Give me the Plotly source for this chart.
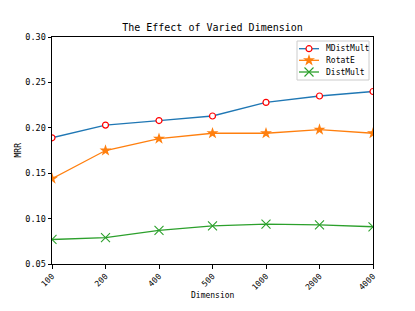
import plotly.graph_objects as go

dims = ["100", "200", "400", "500", "1000", "2000", "4000"]
mdistmult = [0.189, 0.203, 0.208, 0.213, 0.228, 0.235, 0.240]
rotate = [0.144, 0.175, 0.188, 0.194, 0.194, 0.198, 0.194]
distmult = [0.077, 0.079, 0.087, 0.092, 0.094, 0.093, 0.091]
series_names = ["MDistMult", "RotatE", "DistMult"]

FONT = "DejaVu Sans Mono"
BLUE, ORANGE, GREEN = "#1f77b4", "#ff7f0e", "#2ca02c"

styles = [
    dict(line=dict(color=BLUE, width=1.3),
         marker=dict(symbol="circle", size=6, color="white", line=dict(color="red", width=1.2))),
    dict(line=dict(color=ORANGE, width=1.3),
         marker=dict(symbol="star", size=9, color=ORANGE, line=dict(width=0))),
    dict(line=dict(color=GREEN, width=1.3),
         marker=dict(symbol="x-thin", size=9, color=GREEN, line=dict(color=GREEN, width=1.1))),
]

fig = go.Figure()
for name, vals, st in zip(series_names, [mdistmult, rotate, distmult], styles):
    fig.add_trace(go.Scatter(x=dims, y=vals, name=name, mode="lines+markers",
                             cliponaxis=True, **st))

# Figure is drawn with an 8px body offset; layout coordinates below are figure px.
L, R, T, B = 44, 50, 29, 55
W, H = 415, 311
x0p, x1p, y0p, y1p = L, W - R, T, H - B

# custom compact legend (matplotlib style)
box = dict(x0=289, x1=361, y0=33, y1=72)
rows_y = [40.7, 52.3, 64.0]
fig.add_shape(type="rect", xref="x2", yref="y2", x0=box["x0"], x1=box["x1"],
              y0=box["y0"], y1=box["y1"], line=dict(color="#cccccc", width=1),
              fillcolor="rgba(255,255,255,0.8)", layer="below")
for name, ry, st in zip(series_names, rows_y, styles):
    fig.add_trace(go.Scatter(x=[291, 311], y=[ry, ry], xaxis="x2", yaxis="y2",
                             mode="lines", line=st["line"], hoverinfo="skip",
                             showlegend=False, cliponaxis=False))
    fig.add_trace(go.Scatter(x=[301], y=[ry], xaxis="x2", yaxis="y2",
                             mode="markers", marker=st["marker"], hoverinfo="skip",
                             showlegend=False, cliponaxis=False))
    fig.add_annotation(text=name, xref="x2", yref="y2", x=316, y=ry,
                       xanchor="left", yanchor="middle", showarrow=False,
                       font=dict(size=8, family=FONT, color="black"))

fig.update_layout(
    width=W, height=H,
    margin=dict(l=L, r=R, t=T, b=B, autoexpand=False),
    paper_bgcolor="white", plot_bgcolor="white",
    font=dict(family=FONT, size=9, color="black"),
    title=dict(text="The Effect of Varied Dimension", x=(x0p + x1p) / 2 / W, xanchor="center",
               yref="container", y=1 - 19.5 / H, yanchor="middle",
               font=dict(size=10, family=FONT)),
    showlegend=False,
    xaxis2=dict(overlaying="x", range=[x0p, x1p], visible=False, fixedrange=True),
    yaxis2=dict(overlaying="y", range=[y1p, y0p], visible=False, fixedrange=True),
)
fig.update_layout(xaxis=dict(type="category", range=[0, 6], showgrid=False, zeroline=False,
                             automargin=False,
                             showline=True, linecolor="black", linewidth=1, mirror=True,
                             ticks="outside", ticklen=3.5, tickcolor="black", tickangle=-45,
                             tickfont=dict(size=8)),
                  yaxis=dict(range=[0.05, 0.30], tickvals=[0.05, 0.10, 0.15, 0.20, 0.25, 0.30],
                             tickformat=".2f", showgrid=False, zeroline=False,
                             automargin=False,
                             showline=True, linecolor="black", linewidth=1, mirror=True,
                             ticks="outside", ticklen=3.5, tickcolor="black",
                             tickfont=dict(size=8.5)))
fig.add_annotation(text="Dimension", xref="paper", yref="paper", x=0.5,
                   y=-(287 - y1p) / (y1p - y0p), xanchor="center", yanchor="middle",
                   showarrow=False, font=dict(size=8, family=FONT))
fig.add_annotation(text="MRR", xref="paper", yref="paper", x=(10 - x0p) / (x1p - x0p),
                   y=0.5, xanchor="center", yanchor="middle", textangle=-90,
                   showarrow=False, font=dict(size=8, family=FONT))

fig.write_html("out.html")
